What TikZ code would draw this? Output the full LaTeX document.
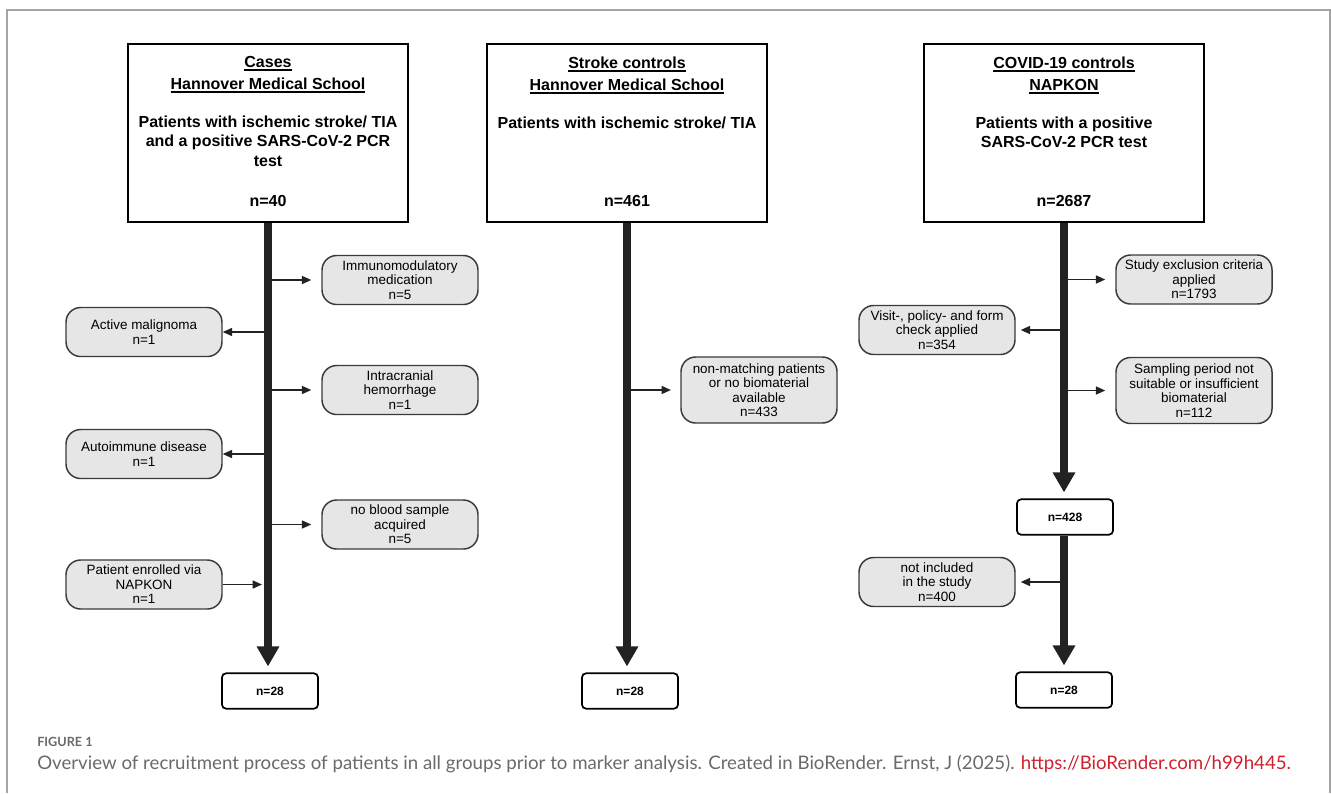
\documentclass[tikz,border=0pt]{standalone}
\usepackage{fontspec}
\setmainfont{Liberation Sans}
\newfontfamily\capfont{Lato}
\usepackage{xcolor}
\usepackage{tikz}
\usetikzlibrary{arrows.meta, positioning}

\definecolor{framegray}{HTML}{A4A4A4}
\definecolor{boxgray}{HTML}{E6E6E6}
\definecolor{edgegray}{HTML}{3A3A3A}
\definecolor{trunkblack}{HTML}{222222}
\definecolor{capgray}{HTML}{6A6A6A}
\definecolor{linkred}{HTML}{D0202E}

% thick underline for the cohort headings
\newcommand{\underhead}[1]{\leavevmode\setbox0\hbox{#1}\rlap{\vrule width\wd0 height -1.6pt depth 2.6pt}\box0}

\begin{document}
\begin{tikzpicture}[
    x=0.75pt, y=-0.75pt,
    cohort/.style={draw, line width=1.5pt, minimum width=210pt, minimum height=133.5pt, inner sep=0pt},
    head/.style={font=\fontsize{12}{16.5}\selectfont\bfseries, align=center, inner sep=0pt},
    crit/.style={font=\fontsize{12}{14.6}\selectfont\bfseries, align=center, inner sep=0pt},
    excl/.style={draw=edgegray, fill=boxgray, line width=1.1pt, rounded corners=11pt, align=center,
                 minimum width=117pt, minimum height=36.75pt, inner sep=2pt,
                 font=\fontsize{10.1}{10.9}\selectfont},
    excltall/.style={excl, minimum height=49.5pt},
    final/.style={draw, line width=1.3pt, rounded corners=3pt, minimum width=72pt, minimum height=26.5pt,
                  font=\fontsize{9}{11}\selectfont\bfseries},
    trunk/.style={trunkblack, line width=6pt, -{Triangle[width=16pt,length=15pt]}, shorten >=4.5pt},
    side/.style={trunkblack, line width=1.1pt, -{Triangle[width=6pt,length=7pt]}},
  ]
  \useasboundingbox (0,0) rectangle (1331,793);

  % page frame
  \draw[framegray, line width=1.2pt] (7,793) -- (7,10) -- (1330,10) -- (1330,793);

  % cohort boxes
  \node[cohort] (cases)  at (268,133)  {};
  \node[cohort] (stroke) at (627,133)  {};
  \node[cohort] (covid)  at (1064,133) {};

  \node[head, below=9.5pt of cases.north] (casesHead) {\underhead{Cases}\\\underhead{Hannover Medical School}};
  \node[crit, below=17pt of casesHead] (casesCrit) {Patients with ischemic stroke/ TIA\\and a positive SARS-CoV-2 PCR\\test};
  \node[crit, above=12pt of cases.south] (casesN) {n=40};

  \node[head, below=10pt of stroke.north] (strokeHead) {\underhead{Stroke controls}\\\underhead{Hannover Medical School}};
  \node[crit, below=17pt of strokeHead] (strokeCrit) {Patients with ischemic stroke/ TIA};
  \node[crit, above=12pt of stroke.south] (strokeN) {n=461};

  \node[head, below=10pt of covid.north] (covidHead) {\underhead{COVID-19 controls}\\\underhead{NAPKON}};
  \node[crit, below=17pt of covidHead] (covidCrit) {Patients with a positive\\ SARS-CoV-2 PCR test};
  \node[crit, above=12pt of covid.south] (covidN) {n=2687};

  % cases column
  \node[excl] (immuno)  at (400,280)   {Immunomodulatory\\medication\\n=5};
  \node[excl] (malign)  at (144,332)   {Active malignoma\\n=1};
  \node[excl] (bleed)   at (400,390)   {Intracranial\\hemorrhage\\n=1};
  \node[excl] (autoimm) at (144,454)   {Autoimmune disease\\n=1};
  \node[excl] (noblood) at (400,524.5) {no blood sample\\acquired\\n=5};
  \node[excl] (enrol)   at (144,584.5) {Patient enrolled via\\NAPKON\\n=1};
  \node[final] (casesEnd) at (270,691) {n=28};

  % stroke column
  \node[excltall] (nomatch) at (759,390) {non-matching patients\\or no biomaterial\\available\\n=433};
  \node[final] (strokeEnd) at (630,691) {n=28};

  % covid column
  \node[excl] (exclcrit) at (1194,279.5) {Study exclusion criteria\\applied\\n=1793};
  \node[excl] (visit)    at (937,330)    {Visit-, policy- and form\\check applied\\n=354};
  \node[excltall] (sampling) at (1194,390.5) {Sampling period not\\suitable or insufficient\\biomaterial\\n=112};
  \node[final] (covidMid) at (1065,517) {n=428};
  \node[excl] (notincl)  at (937,582)    {not included\\in the study\\n=400};
  \node[final] (covidEnd) at (1064,690)  {n=28};

  % side arrows (drawn first, the trunks cover their start)
  \draw[side, shorten >=7.5pt] (cases.south |- immuno.west) -- (immuno.west);
  \draw[side] (cases.south |- malign.east) -- (malign.east);
  \draw[side, shorten >=7.5pt] (cases.south |- bleed.west) -- (bleed.west);
  \draw[side] (cases.south |- autoimm.east) -- (autoimm.east);
  \draw[side, shorten >=7.5pt] (cases.south |- noblood.west) -- (noblood.west);
  \draw[side, shorten >=4.5pt] (enrol.east) -- (cases.south |- enrol.east);

  \draw[side, shorten >=7pt] (stroke.south |- nomatch.west) -- (nomatch.west);

  \draw[side, shorten >=7.5pt] (covid.south |- exclcrit.west) -- (exclcrit.west);
  \draw[side, shorten >=3.75pt] (covid.south |- visit.east) -- (visit.east);
  \draw[side, shorten >=7.5pt] (covid.south |- sampling.west) -- (sampling.west);
  \draw[side, shorten >=3.75pt] (covid.south |- notincl.east) -- (notincl.east);

  % trunks
  \draw[trunk] (cases.south) -- (cases.south |- casesEnd.north);
  \draw[trunk] (stroke.south) -- (stroke.south |- strokeEnd.north);
  \draw[trunk] (covid.south) -- (covid.south |- covidMid.north);
  \draw[trunk] (covid.south |- covidMid.south) -- (covid.south |- covidEnd.north);

  % caption
  \node[anchor=west, inner sep=0pt, text=capgray, font=\capfont\fontsize{9.5}{11}\selectfont\bfseries] (figLabel) at (37,742) {FIGURE 1};
  \node[anchor=west, inner sep=0pt, text=capgray, font=\capfont\fontsize{14}{16}\selectfont] (figCaption) at (37,764)
    {Overview of recruitment process of patients in all groups prior to marker analysis. Created in BioRender. Ernst, J (2025). \textcolor{linkred}{https://BioRender.com/h99h445.}};

\end{tikzpicture}
\end{document}
